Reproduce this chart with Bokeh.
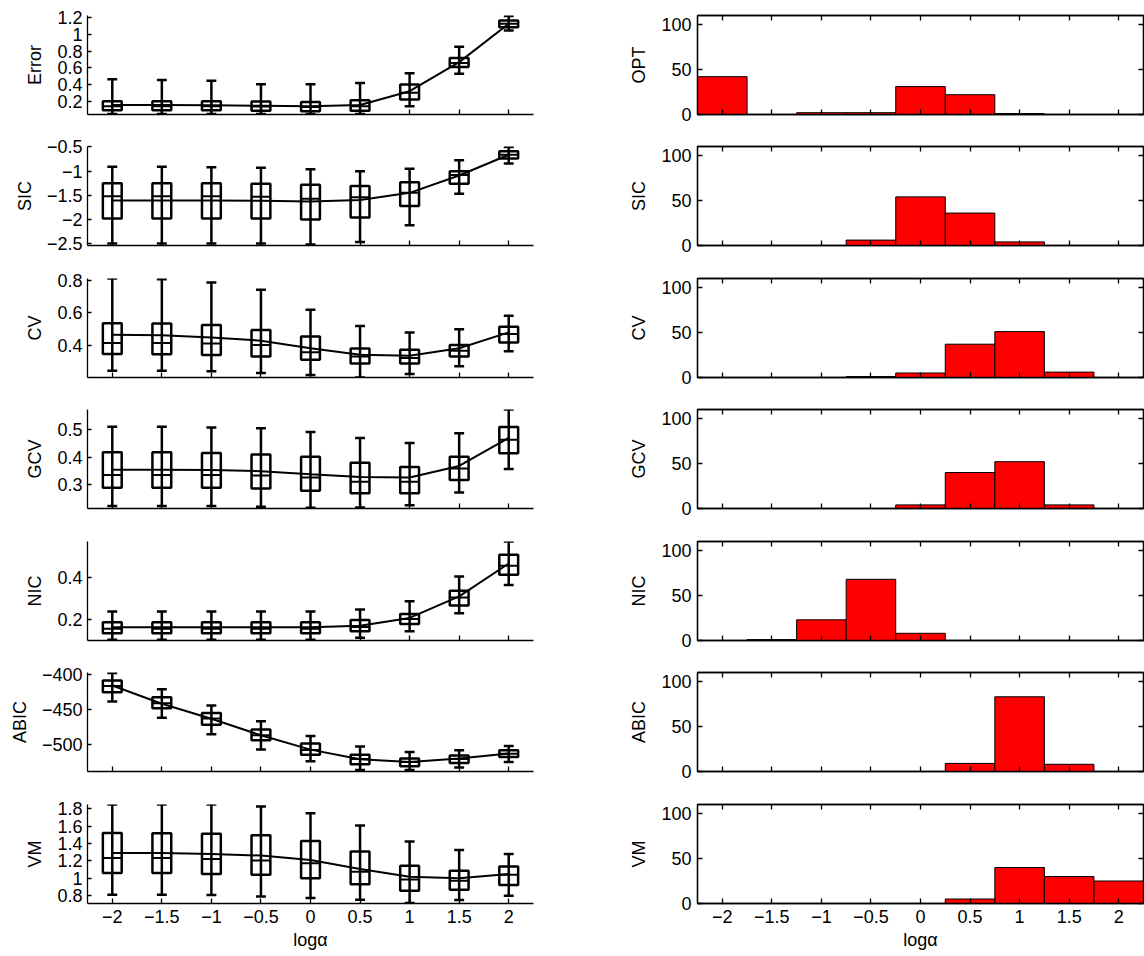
import numpy as np
from bokeh.plotting import figure
from bokeh.layouts import column, row
from bokeh.models import FixedTicker, LinearAxis, Range1d
from bokeh.embed import file_html
from bokeh.resources import INLINE

# ---------------- data ----------------
log_alpha = [-2, -1.5, -1, -0.5, 0, 0.5, 1, 1.5, 2]
x_tick_labels = ["\u22122", "\u22121.5", "\u22121", "\u22120.5", "0", "0.5", "1", "1.5", "2"]
x_label = "log\u03b1"

# left column: box statistics per criterion
error_lo   = [0.045, 0.045, 0.045, 0.045, 0.045, 0.045, 0.14, 0.53, 1.05]
error_q1   = [0.09, 0.09, 0.09, 0.085, 0.08, 0.085, 0.22, 0.61, 1.09]
error_med  = [0.14, 0.14, 0.14, 0.135, 0.13, 0.14, 0.30, 0.66, 1.13]
error_q3   = [0.20, 0.20, 0.20, 0.195, 0.19, 0.21, 0.40, 0.72, 1.17]
error_hi   = [0.465, 0.455, 0.445, 0.405, 0.405, 0.42, 0.535, 0.855, 1.225]
error_mean = [0.155, 0.155, 0.152, 0.145, 0.138, 0.155, 0.32, 0.67, 1.13]
error_ticks = [0.2, 0.4, 0.6, 0.8, 1, 1.2]
error_tick_labels = ["0.2", "0.4", "0.6", "0.8", "1", "1.2"]

sic_lo   = [-2.50, -2.50, -2.50, -2.50, -2.52, -2.47, -2.12, -1.47, -0.84]
sic_q1   = [-1.98, -1.98, -1.98, -1.98, -2.00, -1.96, -1.72, -1.26, -0.74]
sic_med  = [-1.52, -1.52, -1.52, -1.53, -1.57, -1.54, -1.45, -1.08, -0.66]
sic_q3   = [-1.25, -1.25, -1.25, -1.26, -1.28, -1.31, -1.23, -1.00, -0.59]
sic_hi   = [-0.91, -0.91, -0.92, -0.93, -0.96, -1.00, -0.95, -0.775, -0.50]
sic_mean = [-1.61, -1.61, -1.61, -1.615, -1.63, -1.60, -1.45, -1.09, -0.66]
sic_ticks = [-2.5, -2, -1.5, -1, -0.5]
sic_tick_labels = ["\u22122.5", "\u22122", "\u22121.5", "\u22121", "\u22120.5"]

cv_lo   = [0.242, 0.242, 0.238, 0.228, 0.215, 0.20, 0.221, 0.269, 0.361]
cv_q1   = [0.345, 0.343, 0.338, 0.330, 0.310, 0.287, 0.287, 0.330, 0.416]
cv_med  = [0.412, 0.412, 0.410, 0.400, 0.355, 0.330, 0.320, 0.365, 0.468]
cv_q3   = [0.535, 0.533, 0.523, 0.492, 0.453, 0.379, 0.371, 0.400, 0.513]
cv_hi   = [0.81, 0.806, 0.786, 0.74, 0.617, 0.517, 0.478, 0.498, 0.58]
cv_mean = [0.464, 0.461, 0.447, 0.427, 0.38, 0.34, 0.334, 0.38, 0.478]
cv_ticks = [0.4, 0.6, 0.8]
cv_tick_labels = ["0.4", "0.6", "0.8"]

gcv_lo   = [0.224, 0.224, 0.224, 0.221, 0.218, 0.219, 0.227, 0.273, 0.358]
gcv_q1   = [0.290, 0.290, 0.290, 0.287, 0.279, 0.270, 0.270, 0.318, 0.415]
gcv_med  = [0.336, 0.336, 0.336, 0.334, 0.327, 0.312, 0.312, 0.360, 0.464]
gcv_q3   = [0.418, 0.418, 0.416, 0.410, 0.402, 0.380, 0.365, 0.402, 0.510]
gcv_hi   = [0.511, 0.511, 0.508, 0.505, 0.492, 0.470, 0.452, 0.487, 0.573]
gcv_mean = [0.355, 0.355, 0.354, 0.350, 0.339, 0.329, 0.327, 0.369, 0.470]
gcv_ticks = [0.3, 0.4, 0.5]
gcv_tick_labels = ["0.3", "0.4", "0.5"]

nic_lo   = [0.103, 0.103, 0.103, 0.103, 0.103, 0.113, 0.144, 0.230, 0.365]
nic_q1   = [0.135, 0.135, 0.135, 0.135, 0.135, 0.144, 0.179, 0.267, 0.414]
nic_med  = [0.156, 0.156, 0.156, 0.156, 0.156, 0.165, 0.203, 0.306, 0.457]
nic_q3   = [0.187, 0.187, 0.187, 0.187, 0.187, 0.198, 0.227, 0.338, 0.510]
nic_hi   = [0.238, 0.238, 0.238, 0.238, 0.238, 0.248, 0.287, 0.406, 0.573]
nic_mean = [0.163, 0.163, 0.163, 0.163, 0.163, 0.171, 0.208, 0.311, 0.468]
nic_ticks = [0.2, 0.4]
nic_tick_labels = ["0.2", "0.4"]

abic_lo   = [-438.7, -461.9, -485.7, -507.6, -524.3, -537.0, -537.0, -533.3, -525.2]
abic_q1   = [-425.5, -448.1, -471.9, -494.3, -514.8, -528.6, -531.4, -526.7, -518.1]
abic_med  = [-416.5, -441.0, -463.0, -487.0, -508.0, -521.0, -525.5, -521.0, -513.5]
abic_q3   = [-408.5, -432.4, -455.2, -478.6, -499.0, -514.8, -520.5, -516.2, -508.6]
abic_hi   = [-397.6, -421.0, -444.3, -467.0, -488.0, -503.0, -511.0, -508.6, -502.4]
abic_mean = [-415.6, -441.9, -463.3, -487.0, -507.6, -521.4, -525.2, -520.5, -513.3]
abic_ticks = [-500, -450, -400]
abic_tick_labels = ["\u2212500", "\u2212450", "\u2212400"]

vm_lo   = [0.812, 0.812, 0.808, 0.792, 0.773, 0.754, 0.715, 0.750, 0.800]
vm_q1   = [1.062, 1.062, 1.050, 1.042, 1.000, 0.931, 0.858, 0.869, 0.923]
vm_med  = [1.235, 1.235, 1.223, 1.204, 1.173, 1.077, 0.985, 0.973, 1.042]
vm_q3   = [1.523, 1.519, 1.512, 1.496, 1.430, 1.308, 1.146, 1.088, 1.135]
vm_hi   = [1.850, 1.850, 1.850, 1.827, 1.750, 1.608, 1.423, 1.327, 1.281]
vm_mean = [1.292, 1.292, 1.280, 1.262, 1.212, 1.108, 1.019, 1.000, 1.050]
vm_ticks = [0.8, 1, 1.2, 1.4, 1.6, 1.8]
vm_tick_labels = ["0.8", "1", "1.2", "1.4", "1.6", "1.8"]

# right column: histogram counts of selected log(alpha)
opt_counts  = [42, 0, 2, 2, 31, 22, 1, 0, 0]
sic_counts  = [0, 0, 0, 6, 54, 36, 4, 0, 0]
cv_counts   = [0, 0, 0, 1, 5, 37, 51, 6, 0]
gcv_counts  = [0, 0, 0, 0, 4, 40, 52, 4, 0]
nic_counts  = [0, 1, 23, 68, 8, 0, 0, 0, 0]
abic_counts = [0, 0, 0, 0, 0, 9, 83, 8, 0]
vm_counts   = [0, 0, 0, 0, 0, 5, 40, 30, 25]
hist_ticks = [0, 50, 100]
hist_tick_labels = ["0", "50", "100"]

left_panels = [
    ("Error", error_lo, error_q1, error_med, error_q3, error_hi, error_mean, (0.04, 1.23), error_ticks, error_tick_labels),
    ("SIC", sic_lo, sic_q1, sic_med, sic_q3, sic_hi, sic_mean, (-2.54, -0.49), sic_ticks, sic_tick_labels),
    ("CV", cv_lo, cv_q1, cv_med, cv_q3, cv_hi, cv_mean, (0.2, 0.81), cv_ticks, cv_tick_labels),
    ("GCV", gcv_lo, gcv_q1, gcv_med, gcv_q3, gcv_hi, gcv_mean, (0.215, 0.573), gcv_ticks, gcv_tick_labels),
    ("NIC", nic_lo, nic_q1, nic_med, nic_q3, nic_hi, nic_mean, (0.1, 0.573), nic_ticks, nic_tick_labels),
    ("ABIC", abic_lo, abic_q1, abic_med, abic_q3, abic_hi, abic_mean, (-539, -397), abic_ticks, abic_tick_labels),
    ("VM", vm_lo, vm_q1, vm_med, vm_q3, vm_hi, vm_mean, (0.71, 1.85), vm_ticks, vm_tick_labels),
]
right_panels = [
    ("OPT", opt_counts), ("SIC", sic_counts), ("CV", cv_counts), ("GCV", gcv_counts),
    ("NIC", nic_counts), ("ABIC", abic_counts), ("VM", vm_counts),
]

# ---------------- styling / layout ----------------
FONT = "Liberation Sans"
FS = "18px"
X_RANGE = (-2.25, 2.25)
BOX_W = 0.19
CAP_HALF = 0.05
BIN_HALF = 0.25
fig_heights = [131, 132, 131, 132, 131, 132, 167]
LEFT_W, RIGHT_W = 577, 567
L_BORDER, L_FRAME = 87, 446
R_BORDER, R_FRAME = 120, 446


def style_axis(ax, ticks, labels, show_labels, tick_len=5):
    ax.ticker = FixedTicker(ticks=list(ticks))
    ax.major_label_overrides = {t: l for t, l in zip(ticks, labels)}
    ax.major_tick_in = tick_len
    ax.major_tick_out = 0
    ax.minor_tick_line_color = None
    ax.axis_line_color = "black"
    ax.axis_line_width = 1.3
    ax.major_tick_line_color = "black"
    ax.major_tick_line_width = 1.3
    ax.major_label_text_font = FONT
    ax.axis_label_text_font = FONT
    ax.axis_label_text_font_size = FS
    ax.axis_label_text_font_style = "normal"
    ax.axis_label_text_color = "black"
    if show_labels:
        ax.major_label_text_font_size = FS
        ax.major_label_text_color = "black"
        ax.major_label_standoff = 5
    else:
        # tick marks only; labels are not painted
        ax.major_label_text_font_size = "1px"
        ax.major_label_text_color = None
        ax.major_label_standoff = 0


def make_fig(width, height, left, right, bottom, yr):
    p = figure(width=width, height=height, output_backend="svg", toolbar_location=None,
               x_range=Range1d(*X_RANGE), y_range=Range1d(*yr),
               min_border_left=left, min_border_right=right,
               min_border_top=15, min_border_bottom=bottom,
               background_fill_color="white", border_fill_color="white")
    p.grid.visible = False
    return p


rows = []
for i in range(7):
    h = fig_heights[i]
    last = (i == 6)
    bottom = h - 15 - 99

    # ----- left: box plots -----
    name, lo, q1, med, q3, hi, mean, yr, yt, ytl = left_panels[i]
    pl = make_fig(LEFT_W, h, L_BORDER, LEFT_W - L_BORDER - L_FRAME, bottom, yr)
    pl.outline_line_color = None
    xs = np.array(log_alpha, dtype=float)
    lo, q1, med, q3, hi, mean = map(np.array, (lo, q1, med, q3, hi, mean))
    pl.segment(x0=xs, y0=lo, x1=xs, y1=hi, line_color="black", line_width=2.5)
    pl.segment(x0=xs - CAP_HALF, y0=lo, x1=xs + CAP_HALF, y1=lo, line_color="black", line_width=2.5)
    pl.segment(x0=xs - CAP_HALF, y0=hi, x1=xs + CAP_HALF, y1=hi, line_color="black", line_width=2.5)
    pl.rect(x=xs, y=(q1 + q3) / 2, width=BOX_W, height=q3 - q1,
            fill_color=None, line_color="black", line_width=2.5)
    pl.segment(x0=xs - BOX_W / 2, y0=med, x1=xs + BOX_W / 2, y1=med, line_color="black", line_width=2)
    pl.line(xs, mean, line_color="black", line_width=2)
    pl.xaxis.axis_label = x_label if last else None
    style_axis(pl.xaxis[0], log_alpha, x_tick_labels, last)
    pl.yaxis.axis_label = name
    style_axis(pl.yaxis[0], yt, ytl, True, tick_len=4)
    pl.yaxis.axis_label_standoff = 9
    if last:
        pl.xaxis.major_label_standoff = 6
        pl.xaxis.axis_label_standoff = 4

    # ----- right: histograms -----
    rname, counts = right_panels[i]
    pr = make_fig(RIGHT_W, h, R_BORDER, RIGHT_W - R_BORDER - R_FRAME, bottom, (0, 110))
    pr.outline_line_color = "black"
    pr.outline_line_width = 1.3
    counts = np.array(counts, dtype=float)
    pr.quad(left=xs - BIN_HALF, right=xs + BIN_HALF, bottom=0, top=counts,
            fill_color="#ff0000", line_color="black", line_width=1)
    pr.xaxis.axis_label = x_label if last else None
    style_axis(pr.xaxis[0], log_alpha, x_tick_labels, last)
    pr.yaxis.axis_label = rname
    style_axis(pr.yaxis[0], hist_ticks, hist_tick_labels, True)
    pr.yaxis.major_label_standoff = 6
    pr.yaxis.axis_label_standoff = 9
    if last:
        pr.xaxis.major_label_standoff = 6
        pr.xaxis.axis_label_standoff = 4
    top_ax = LinearAxis()
    pr.add_layout(top_ax, "above")
    style_axis(top_ax, log_alpha, x_tick_labels, False)
    right_ax = LinearAxis()
    pr.add_layout(right_ax, "right")
    style_axis(right_ax, hist_ticks, hist_tick_labels, False)

    rows.append(row(pl, pr))

layout = column(*rows)
open("out.html", "w").write(file_html(layout, INLINE))
